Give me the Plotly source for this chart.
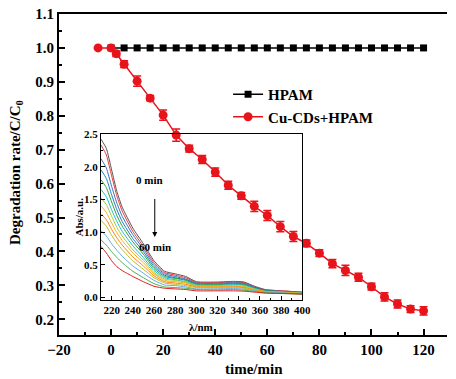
import plotly.graph_objects as go

# ---------------- data ----------------
hpam_t = [0, 5, 10, 15, 20, 25, 30, 35, 40, 45, 50, 55, 60, 65, 70, 75, 80, 85, 90, 95, 100, 105, 110, 115, 120]
hpam_y = [1.0] * len(hpam_t)

cu_t = [-5, 0, 2, 5, 10, 15, 20, 25, 30, 35, 40, 45, 50, 55, 60, 65, 70, 75, 80, 85, 90, 95, 100, 105, 110, 115, 120]
cu_y = [1.0, 1.0, 0.983, 0.952, 0.902, 0.852, 0.802, 0.743, 0.703, 0.671, 0.634, 0.595, 0.564, 0.533, 0.506,
        0.473, 0.444, 0.424, 0.395, 0.364, 0.344, 0.324, 0.296, 0.266, 0.245, 0.230, 0.225]
cu_err = [0, 0, 0.008, 0.010, 0.015, 0.008, 0.015, 0.018, 0.010, 0.012, 0.012, 0.012, 0.010, 0.015, 0.015,
          0.015, 0.015, 0.010, 0.010, 0.012, 0.015, 0.012, 0.010, 0.012, 0.012, 0.010, 0.012]

wl = [210, 215, 220, 225, 230, 240, 250, 260, 270, 280, 290, 300, 320, 335, 345, 355, 365, 380, 400]
abs_0 = [2.42, 2.28, 1.95, 1.62, 1.38, 1.06, 0.82, 0.56, 0.40, 0.36, 0.32, 0.24, 0.235, 0.245, 0.235, 0.17, 0.12, 0.10, 0.08]
abs_5 = [2.33, 2.18, 1.86, 1.55, 1.32, 1.01, 0.78, 0.53, 0.38, 0.34, 0.30, 0.23, 0.225, 0.235, 0.225, 0.16, 0.115, 0.10, 0.08]
abs_10 = [2.12, 1.98, 1.70, 1.44, 1.24, 0.96, 0.74, 0.50, 0.36, 0.32, 0.28, 0.22, 0.215, 0.225, 0.215, 0.155, 0.11, 0.09, 0.07]
abs_15 = [1.95, 1.82, 1.57, 1.34, 1.16, 0.90, 0.70, 0.47, 0.34, 0.30, 0.27, 0.21, 0.205, 0.215, 0.205, 0.15, 0.105, 0.09, 0.07]
abs_20 = [1.80, 1.68, 1.46, 1.25, 1.09, 0.85, 0.66, 0.44, 0.32, 0.29, 0.26, 0.20, 0.195, 0.205, 0.195, 0.14, 0.10, 0.09, 0.07]
abs_25 = [1.65, 1.54, 1.34, 1.16, 1.01, 0.79, 0.61, 0.41, 0.30, 0.27, 0.24, 0.19, 0.185, 0.195, 0.185, 0.135, 0.095, 0.08, 0.07]
abs_30 = [1.52, 1.42, 1.24, 1.07, 0.94, 0.73, 0.57, 0.38, 0.28, 0.26, 0.23, 0.18, 0.175, 0.18, 0.17, 0.13, 0.09, 0.08, 0.06]
abs_35 = [1.40, 1.30, 1.14, 0.99, 0.87, 0.68, 0.53, 0.36, 0.26, 0.24, 0.22, 0.17, 0.165, 0.17, 0.16, 0.12, 0.09, 0.08, 0.06]
abs_40 = [1.28, 1.19, 1.04, 0.91, 0.80, 0.62, 0.48, 0.33, 0.24, 0.22, 0.20, 0.16, 0.155, 0.16, 0.15, 0.115, 0.085, 0.07, 0.06]
abs_45 = [1.18, 1.09, 0.95, 0.83, 0.73, 0.56, 0.43, 0.30, 0.22, 0.20, 0.18, 0.15, 0.145, 0.15, 0.14, 0.11, 0.08, 0.07, 0.06]
abs_50 = [1.02, 0.94, 0.82, 0.72, 0.63, 0.48, 0.37, 0.26, 0.19, 0.18, 0.16, 0.13, 0.13, 0.135, 0.125, 0.10, 0.075, 0.07, 0.05]
abs_55 = [0.88, 0.80, 0.70, 0.61, 0.53, 0.40, 0.30, 0.21, 0.16, 0.15, 0.14, 0.12, 0.115, 0.12, 0.11, 0.09, 0.07, 0.06, 0.05]
abs_60 = [0.78, 0.68, 0.56, 0.47, 0.41, 0.32, 0.24, 0.17, 0.14, 0.13, 0.12, 0.10, 0.10, 0.10, 0.095, 0.08, 0.065, 0.06, 0.05]
spectra = [abs_0, abs_5, abs_10, abs_15, abs_20, abs_25, abs_30, abs_35, abs_40, abs_45, abs_50, abs_55, abs_60]
spec_colors = ['#555555', '#E8383D', '#3B6FB6', '#1F78D1', '#2CA02C', '#17BECF', '#9ACD32',
               '#F2B01E', '#FF7F0E', '#BCBD22', '#5DADE2', '#4CAF50', '#E41A1C']

FONT = "Liberation Serif"
W, H = 456, 379
L, R, T, B = 59, 0, 14, 44
PW, PH = W - L - R, H - T - B


def px(x):
    return (x - L) / PW


def py(y):
    return (H - B - y) / PH


fig = go.Figure()

# inset spectra
for vals, col in zip(spectra, spec_colors):
    fig.add_trace(go.Scatter(x=wl, y=vals, mode='lines', line=dict(color=col, width=1, shape='spline', smoothing=0.5),
                             xaxis='x2', yaxis='y2', showlegend=False))

fig.add_trace(go.Scatter(x=hpam_t, y=hpam_y, mode='lines+markers', name='HPAM',
                         line=dict(color='black', width=1.5),
                         marker=dict(symbol='square', size=7, color='black')))
fig.add_trace(go.Scatter(x=cu_t, y=cu_y, mode='lines+markers', name='Cu-CDs+HPAM',
                         line=dict(color='#E8141B', width=1.5),
                         marker=dict(symbol='circle', size=9, color='#E8141B'),
                         error_y=dict(type='data', array=cu_err, color='#E8141B', thickness=1.5, width=4)))

tickfont = dict(family=FONT, size=15, color='black', weight='bold')
smallfont = dict(family=FONT, size=11, color='black', weight='bold')

fig.update_layout(
    width=W, height=H, margin=dict(l=L, r=R, t=T, b=B),
    paper_bgcolor='white', plot_bgcolor='rgba(0,0,0,0)',
    xaxis=dict(range=[-20, 129], domain=[0, 1], tickmode='array', tickvals=[-20, 0, 20, 40, 60, 80, 100, 120],
               ticks='inside', ticklen=6, tickwidth=1.5, tickcolor='black',
               minor=dict(dtick=10, tick0=0, ticks='inside', ticklen=3, tickwidth=1.5, tickcolor='black'),
               showline=True, linecolor='black', linewidth=2, mirror=True, showgrid=False, zeroline=False,
               tickfont=tickfont),
    yaxis=dict(range=[0.1537, 1.1], domain=[0, 1], tickmode='array', tickvals=[0.2, 0.3, 0.4, 0.5, 0.6, 0.7, 0.8, 0.9, 1.0, 1.1],
               tickformat='.1f', ticks='inside', ticklen=6, tickwidth=1.5, tickcolor='black',
               minor=dict(dtick=0.05, tick0=0.15, ticks='inside', ticklen=3, tickwidth=1.5, tickcolor='black'),
               showline=True, linecolor='black', linewidth=2, mirror=False, showgrid=False, zeroline=False,
               tickfont=tickfont),
    xaxis2=dict(range=[210, 400], domain=[px(102), px(308)], anchor='y2', tickmode='array',
                tickvals=[220, 240, 260, 280, 300, 320, 340, 360, 380, 400],
                ticks='inside', ticklen=4, tickwidth=1, tickcolor='black',
                minor=dict(dtick=10, tick0=210, ticks='inside', ticklen=2, tickwidth=1, tickcolor='black'),
                showline=True, linecolor='black', linewidth=1, mirror=True, showgrid=False, zeroline=False,
                tickfont=smallfont),
    yaxis2=dict(range=[-0.04, 2.5], domain=[py(300), py(134)], anchor='x2', tickmode='array',
                tickvals=[0.0, 0.5, 1.0, 1.5, 2.0, 2.5], tickformat='.1f',
                ticks='inside', ticklen=4, tickwidth=1, tickcolor='black',
                minor=dict(dtick=0.25, tick0=0, ticks='inside', ticklen=2, tickwidth=1, tickcolor='black'),
                showline=True, linecolor='black', linewidth=1, mirror=True, showgrid=False, zeroline=False,
                tickfont=smallfont),
    legend=dict(x=px(232), y=py(78), xanchor='left', yanchor='top', bgcolor='rgba(0,0,0,0)',
                font=dict(family=FONT, size=15, color='black', weight='bold'),
                itemwidth=30, tracegroupgap=0),
    showlegend=True,
)

titlefont = dict(family=FONT, size=15, color='black', weight='bold')
ann = [
    dict(x=px(259), y=py(369), text='time/min', font=titlefont),
    dict(x=px(15), y=py(172), text='Degradation rate/C/C<sub>0</sub>', font=titlefont, textangle=-90),
    dict(x=px(79), y=py(217), text='Abs/a.u.', font=smallfont, textangle=-90),
    dict(x=px(204), y=py(327), text='λ/nm', font=smallfont),
    dict(x=px(152), y=py(180), text='0 min', font=smallfont),
    dict(x=px(157), y=py(247), text='60 min', font=smallfont),
]
for a in ann:
    fig.add_annotation(xref='paper', yref='paper', showarrow=False, xanchor='center', yanchor='middle', **a)

fig.add_annotation(xref='paper', yref='paper', x=px(157), y=py(237), ax=0, ay=-48, text=' ',
                   showarrow=True, arrowhead=2, arrowsize=1, arrowwidth=1, arrowcolor='black')

fig.write_html("out.html")
